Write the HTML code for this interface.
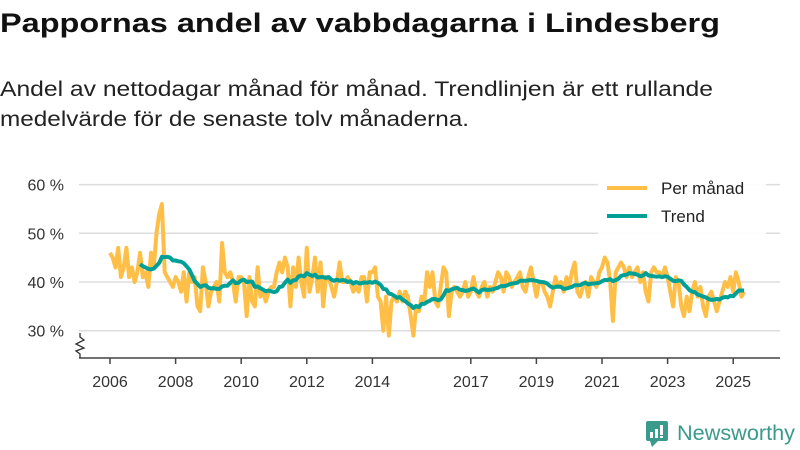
<!DOCTYPE html>
<html><head><meta charset="utf-8"><style>
html,body{margin:0;padding:0;background:#fff;}
svg{display:block;font-family:"Liberation Sans",sans-serif;}
</style></head><body>
<svg width="800" height="450" viewBox="0 0 800 450">
<text x="0" y="32" font-size="27" font-weight="bold" fill="#111" textLength="720" lengthAdjust="spacingAndGlyphs">Pappornas andel av vabbdagarna i Lindesberg</text>
<text x="0" y="96" font-size="21" fill="#222" textLength="713" lengthAdjust="spacingAndGlyphs">Andel av nettodagar månad för månad. Trendlinjen är ett rullande</text>
<text x="0" y="126" font-size="21" fill="#222" textLength="469" lengthAdjust="spacingAndGlyphs">medelvärde för de senaste tolv månaderna.</text>
<g id="grid"></g>
<g id="axes"></g>
<g id="series"></g>
<g>
<rect x="598" y="170" width="168" height="64" fill="#fff" opacity="0.9"/>
<line x1="607" y1="188" x2="647" y2="188" stroke="#ffbe46" stroke-width="4"/>
<text x="661" y="194" font-size="17" fill="#222">Per månad</text>
<line x1="607" y1="216" x2="647" y2="216" stroke="#00a096" stroke-width="4"/>
<text x="661" y="222" font-size="17" fill="#222">Trend</text>
</g>
<g>
<rect x="646" y="421" width="22" height="20" rx="2" fill="#3a9a8c"/>
<polygon points="650,441 658,441 652,447" fill="#3a9a8c"/>
<rect x="650" y="432" width="3" height="6" fill="#fff"/><rect x="655" y="429" width="3" height="9" fill="#fff"/><rect x="660" y="425" width="3" height="10" fill="#fff"/><rect x="660" y="436" width="3" height="2" fill="#fff"/>
<text x="677" y="440" font-size="21" fill="#3a9a8c" textLength="118" lengthAdjust="spacingAndGlyphs">Newsworthy</text>
</g>
</svg>
<script>
const yTicks=[30,40,50,60];
const xTickYears=[2006,2008,2010,2012,2014,2017,2019,2021,2023,2025];
const startYear=2006;
const perManad=[
46,45,43,47,41,43,47,41,43,40,42,46,
41,42,39,46,43,50,54,56,42,41,40,39,
41,40,38,42,36,42,40,41,35,34,43,40,
35,38,39,40,36,48,42,41,42,40,36,41,
41,40,33,41,36,35,43,37,38,36,38,39,
39,42,44,42,45,43,35,43,39,45,40,37,
47,38,41,45,38,44,35,41,41,39,37,40,
44,40,40,41,40,38,39,38,41,41,36,42,
42,43,37,36,30,37,29,36,37,36,38,36,
38,37,33,29,35,34,37,36,42,39,42,36,
35,39,43,42,33,38,39,38,37,38,40,37,
38,41,38,37,39,40,37,39,38,40,42,41,
38,42,41,39,40,41,42,39,38,41,43,40,
37,40,40,38,37,35,38,41,39,40,38,41,
39,42,44,38,37,39,40,37,41,40,39,42,
43,45,44,40,32,42,43,44,43,41,43,41,
42,43,40,42,38,36,42,43,42,42,41,43,
41,38,35,41,40,35,33,37,34,38,40,37,
39,35,33,37,38,36,34,36,38,40,39,41,
38,42,40,37,38];
const NS='http://www.w3.org/2000/svg';
const xs=t=>110+(t-2006)*32.8;
const ys=v=>282-(v-40)*4.87;
function mk(tag,attrs,parent){const e=document.createElementNS(NS,tag);for(const k in attrs)e.setAttribute(k,attrs[k]);parent.appendChild(e);return e;}
const grid=document.getElementById('grid');
yTicks.forEach(v=>{
  const l=mk('line',{x1:79,x2:780,y1:ys(v),y2:ys(v),stroke:'#dddddd','stroke-width':1.5},grid);
  
  
  const t=mk('text',{x:64,y:ys(v)+6,'font-size':16,fill:'#333','text-anchor':'end'},grid);
  t.textContent=v+' %';
  
  
});
const axes=document.getElementById('axes');
const ax=mk('line',{x1:79,x2:780,y1:358,y2:358,stroke:'#444','stroke-width':1.5},axes);


const zz=mk('polyline',{points:'80,333 80,337 84,340 76,344 84,348 76,351 80,354 80,358',fill:'none',stroke:'#333','stroke-width':1.3},axes);


xTickYears.forEach(yr=>{
  const x=xs(yr);
  const tk=mk('line',{x1:x,x2:x,y1:358,y2:364,stroke:'#444','stroke-width':1.5},axes);
  
  
  const t=mk('text',{x:x,y:387,'font-size':16,fill:'#333','text-anchor':'middle'},axes);
  t.textContent=yr;
  
  
});
const series=document.getElementById('series');
const pts=perManad.map((v,i)=>xs(startYear+i/12).toFixed(1)+','+ys(v).toFixed(1)).join(' ');
const pm=mk('polyline',{points:pts,fill:'none',stroke:'#ffbe46','stroke-width':4,'stroke-linejoin':'round'},series);


const trendPts=[];
for(let i=11;i<perManad.length;i++){
  let s=0;for(let j=i-11;j<=i;j++)s+=perManad[j];
  trendPts.push(xs(startYear+i/12).toFixed(1)+','+ys(s/12).toFixed(1));
}
const tr=mk('polyline',{points:trendPts.join(' '),fill:'none',stroke:'#00a096','stroke-width':4,'stroke-linejoin':'round'},series);


</script>
</body></html>
